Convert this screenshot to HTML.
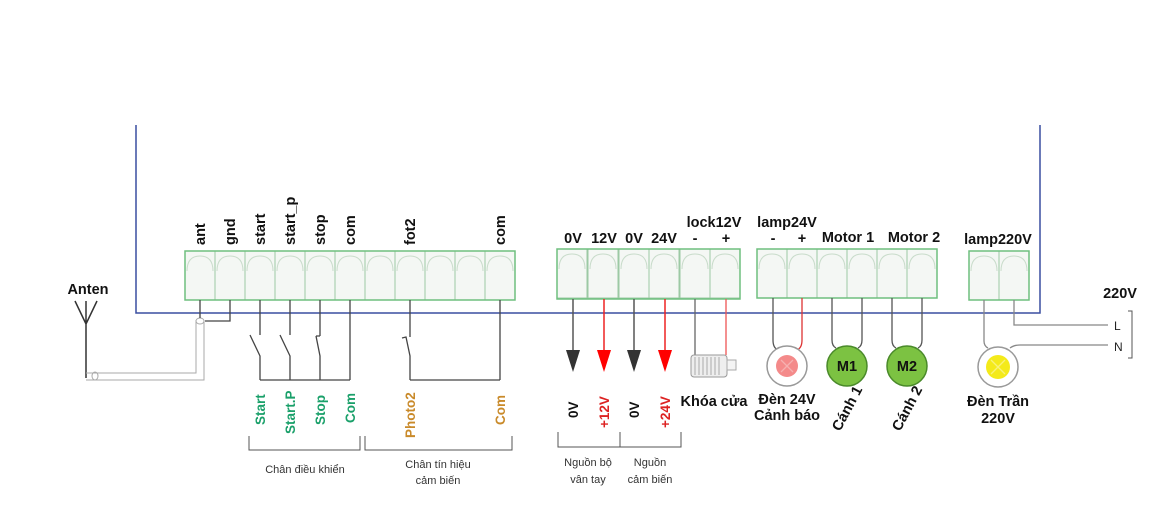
<!DOCTYPE html>
<html><head><meta charset="utf-8"><style>
html,body{margin:0;padding:0;background:#fff;}
svg{display:block}
text{font-family:"Liberation Sans","DejaVu Sans",sans-serif;}
.b{font-weight:bold;font-size:14.5px;fill:#111}
.s{font-size:11px;fill:#333}
</style></head><body>
<svg width="1153" height="528" viewBox="0 0 1153 528" xmlns="http://www.w3.org/2000/svg">
<defs>
<g id="cell">
<rect x="0" y="0" width="30" height="49" fill="#f4f7f4" stroke="#9cc9a4" stroke-width="1"/>
<path d="M2,20 Q2,5 15,5 Q28,5 28,20" fill="none" stroke="#c9dccb" stroke-width="1"/>
</g>
</defs>
<path d="M136,125 V313 H1040 V125" fill="none" stroke="#3a4fa0" stroke-width="1.5"/>

<g>
<use href="#cell" x="185" y="251"/><use href="#cell" x="215" y="251"/><use href="#cell" x="245" y="251"/><use href="#cell" x="275" y="251"/><use href="#cell" x="305" y="251"/><use href="#cell" x="335" y="251"/><use href="#cell" x="365" y="251"/><use href="#cell" x="395" y="251"/><use href="#cell" x="425" y="251"/><use href="#cell" x="455" y="251"/><use href="#cell" x="485" y="251"/>
<rect x="185" y="251" width="330" height="49" fill="none" stroke="#6fbf7f" stroke-width="1.5"/>
</g>
<g>
<use href="#cell" x="557" y="249"/><use href="#cell" x="588" y="249"/><use href="#cell" x="619" y="249"/><use href="#cell" x="649" y="249"/><use href="#cell" x="680" y="249"/><use href="#cell" x="710" y="249"/>
<rect x="557" y="249" width="183" height="50" fill="none" stroke="#6fbf7f" stroke-width="1.5"/>
</g>
<g>
<use href="#cell" x="757" y="249"/><use href="#cell" x="787" y="249"/><use href="#cell" x="817" y="249"/><use href="#cell" x="847" y="249"/><use href="#cell" x="877" y="249"/><use href="#cell" x="907" y="249"/>
<rect x="757" y="249" width="180" height="49" fill="none" stroke="#6fbf7f" stroke-width="1.5"/>
</g>
<g>
<use href="#cell" x="969" y="251"/><use href="#cell" x="999" y="251"/>
<rect x="969" y="251" width="60" height="49" fill="none" stroke="#6fbf7f" stroke-width="1.5"/>
</g>

<g class="b" font-size="14">
<text transform="translate(205,245) rotate(-90)">ant</text>
<text transform="translate(235,245) rotate(-90)">gnd</text>
<text transform="translate(265,245) rotate(-90)">start</text>
<text transform="translate(295,245) rotate(-90)">start_p</text>
<text transform="translate(325,245) rotate(-90)">stop</text>
<text transform="translate(355,245) rotate(-90)">com</text>
<text transform="translate(415,245) rotate(-90)">fot2</text>
<text transform="translate(505,245) rotate(-90)">com</text>
</g>
<g class="b" text-anchor="middle">
<text x="573" y="243">0V</text><text x="604" y="243">12V</text>
<text x="634" y="243">0V</text><text x="664" y="243">24V</text>
<text x="695" y="243">-</text><text x="726" y="243">+</text>
<text x="714" y="227">lock12V</text>
<text x="787" y="227">lamp24V</text>
<text x="773" y="243">-</text><text x="802" y="243">+</text>
<text x="848" y="242">Motor 1</text><text x="914" y="242">Motor 2</text>
<text x="998" y="244">lamp220V</text>
<text x="1120" y="298">220V</text>
<text x="88" y="294">Anten</text>
</g>

<g stroke="#333" stroke-width="1.5" fill="none">
<path d="M75,301 L86,324 L97,301 M86,301 V378"/>
</g>
<g stroke="#aaa" stroke-width="1" fill="none">
<path d="M86,373 H196 V320 M86,380 H204 V320"/>
<ellipse cx="95" cy="376" rx="3" ry="4"/>
<ellipse cx="200" cy="321" rx="4" ry="3"/>
</g>
<g stroke="#444" stroke-width="1.3" fill="none">
<path d="M200,300 V318 M230,300 V321 H205"/>
<path d="M260,300 V335 M250,335 L260,356 V380 M290,300 V335 M280,335 L290,356 V380 M320,300 V336 M316,336 H320 M316,336 L320,356 V380 M350,300 V380 M260,380 H350"/>
<path d="M410,300 V337 M402,338 L406,337 L410,356 V380 M500,300 V380 M410,380 H500"/>
</g>
<g font-weight="bold" font-size="13.5" fill="#1aa06a">
<text transform="translate(265,425) rotate(-90)">Start</text>
<text transform="translate(295,434) rotate(-90)">Start.P</text>
<text transform="translate(325,425) rotate(-90)">Stop</text>
<text transform="translate(355,423) rotate(-90)">Com</text>
</g>
<g font-weight="bold" font-size="13.5" fill="#c98a2a">
<text transform="translate(415,438) rotate(-90)">Photo2</text>
<text transform="translate(505,425) rotate(-90)">Com</text>
</g>
<g stroke="#555" stroke-width="1" fill="none">
<path d="M249,436 V450 H360 V436 M365,436 V450 H512 V436"/>
<path d="M558,432 V447 H620 V432 M620,447 H681 V432"/>
<path d="M1128,311 H1132 V358 H1128"/>
</g>
<g class="s" text-anchor="middle">
<text x="305" y="473">Chân điều khiển</text>
<text x="438" y="468">Chân tín hiệu</text>
<text x="438" y="484">cảm biến</text>
<text x="588" y="466">Nguồn bộ</text>
<text x="588" y="483">vân tay</text>
<text x="650" y="466">Nguồn</text>
<text x="650" y="483">cảm biến</text>
</g>

<g stroke-width="1.5">
<path d="M573,299 V352" stroke="#555"/>
<path d="M604,299 V352" stroke="#e22"/>
<path d="M634,299 V352" stroke="#555"/>
<path d="M665,299 V352" stroke="#e22"/>
</g>
<polygon points="566,350 580,350 573,372" fill="#333"/>
<polygon points="597,350 611,350 604,372" fill="#f00"/>
<polygon points="627,350 641,350 634,372" fill="#333"/>
<polygon points="658,350 672,350 665,372" fill="#f00"/>
<g font-weight="bold" font-size="13.5">
<text transform="translate(578,418) rotate(-90)" fill="#111">0V</text>
<text transform="translate(609,428) rotate(-90)" fill="#d22">+12V</text>
<text transform="translate(639,418) rotate(-90)" fill="#111">0V</text>
<text transform="translate(670,428) rotate(-90)" fill="#d22">+24V</text>
</g>
<path d="M695,299 V355" stroke="#666" stroke-width="1.3"/>
<path d="M726,299 V355" stroke="#e55" stroke-width="1.3"/>
<rect x="691" y="355" width="36" height="22" rx="3" fill="#eee" stroke="#999"/>
<g stroke="#aaa"><path d="M695,357V375M699,357V375M703,357V375M707,357V375M711,357V375M715,357V375M719,357V375"/></g>
<rect x="727" y="360" width="9" height="10" fill="#f4f4f4" stroke="#aaa"/>
<text x="714" y="406" class="b" font-size="12.5" text-anchor="middle">Khóa cửa</text>

<path d="M773,298 V340 Q773,348 778,350" fill="none" stroke="#555" stroke-width="1.3"/>
<path d="M802,298 V340 Q802,348 797,350" fill="none" stroke="#d33" stroke-width="1.3"/>
<circle cx="787" cy="366" r="20" fill="#fff" stroke="#999" stroke-width="1.5"/>
<circle cx="787" cy="366" r="11" fill="#f48a8a"/>
<path d="M781,360 L793,372 M793,360 L781,372" stroke="#f6b0b0" stroke-width="1.3"/>
<g class="b" font-size="12.5" text-anchor="middle">
<text x="787" y="404">Đèn 24V</text><text x="787" y="420">Cảnh báo</text>
<text x="998" y="406">Đèn Trần</text><text x="998" y="423">220V</text>
</g>
<g fill="none" stroke="#555" stroke-width="1.3">
<path d="M832,298 V340 Q832,346 836,348 M862,298 V340 Q862,346 858,348"/>
<path d="M892,298 V340 Q892,346 896,348 M922,298 V340 Q922,346 918,348"/>
</g>
<circle cx="847" cy="366" r="20" fill="#7cc242" stroke="#4a8a2a" stroke-width="1.5"/>
<circle cx="907" cy="366" r="20" fill="#7cc242" stroke="#4a8a2a" stroke-width="1.5"/>
<g class="b" text-anchor="middle" font-size="13"><text x="847" y="371">M1</text><text x="907" y="371">M2</text></g>
<g class="b" font-size="14">
<text transform="translate(840,432) rotate(-62)">Cánh 1</text>
<text transform="translate(900,432) rotate(-62)">Cánh 2</text>
</g>
<path d="M984,300 V341 Q984,346 988,348" fill="none" stroke="#888" stroke-width="1.3"/>
<path d="M1014,300 V325 H1108" fill="none" stroke="#888" stroke-width="1.3"/>
<path d="M1010,348 Q1014,345 1020,345 H1108" fill="none" stroke="#888" stroke-width="1.3"/>
<circle cx="998" cy="367" r="20" fill="#fff" stroke="#999" stroke-width="1.5"/>
<circle cx="998" cy="367" r="12" fill="#f4ea1a"/>
<path d="M991,360 L1005,374 M1005,360 L991,374" stroke="#f8f27a" stroke-width="1.3"/>
<g font-size="12" fill="#222"><text x="1114" y="330">L</text><text x="1114" y="351">N</text></g>
</svg>
</body></html>
